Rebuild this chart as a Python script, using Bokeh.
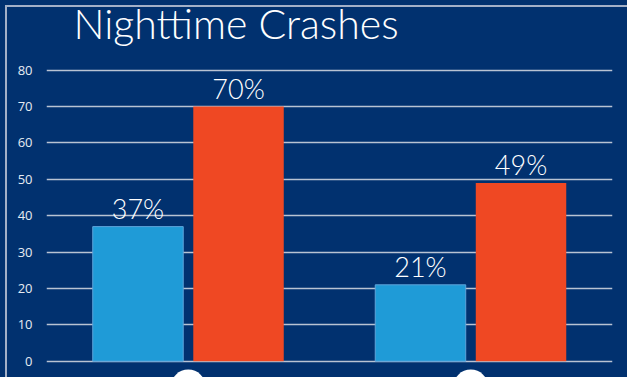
from bokeh.plotting import figure
from bokeh.models import FactorRange, Range1d, FixedTicker, Column, ColumnDataSource, Label
from bokeh.core.properties import value
from bokeh.embed import file_html
from bokeh.resources import INLINE

# ---- data ----
title_text = "Nighttime Crashes"
groups = ["Group 1", "Group 2"]
series = ["Series A", "Series B"]
values_a = [37, 21]
values_b = [70, 49]
labels_a = ["37%", "21%"]
labels_b = ["70%", "49%"]
y_ticks = [0, 10, 20, 30, 40, 50, 60, 70, 80]

BG = "#01316F"
BLUE = "#1F9BD7"
ORANGE = "#EF4823"
GRID = "#B9C3D3"
FRAME_LINE = "#A3B0C7"

factors = [(g, s) for g in groups for s in series]
x_a = [(g, series[0]) for g in groups]
x_b = [(g, series[1]) for g in groups]

p = figure(
    width=627, height=377,
    x_range=FactorRange(*factors, factor_padding=0.0, group_padding=0.81,
                        range_padding=0.41, range_padding_units="absolute"),
    y_range=Range1d(-4.48, 99.16),
    x_axis_location=None,
    output_backend="svg", toolbar_location=None,
    background_fill_alpha=0, border_fill_alpha=0,
    min_border_left=46, min_border_right=15, min_border_top=0, min_border_bottom=0,
)
p.outline_line_color = None

src_a = ColumnDataSource(dict(x=x_a, top=values_a, lab=labels_a))
src_b = ColumnDataSource(dict(x=x_b, top=values_b, lab=labels_b))

p.vbar(x="x", top="top", bottom=0, width=0.9, source=src_a,
       fill_color=BLUE, line_color="#5FA3DA", line_width=1)
p.vbar(x="x", top="top", bottom=0, width=0.9, source=src_b,
       fill_color=ORANGE, line_color=None)

for src in (src_a, src_b):
    p.text(x="x", y="top", text="lab", source=src,
           text_align="center", text_baseline="alphabetic", y_offset=-18,
           text_color="white", text_font=value("Lato Light"), text_font_size="27px")

# icons below the groups (cut off at the bottom edge)
p.scatter(x=groups, y=[-7.1, -7.1], size=35, marker="circle",
          fill_color="white", line_color=None)

p.xgrid.grid_line_color = None
p.ygrid.grid_line_color = GRID
p.ygrid.grid_line_width = 1.5

ax = p.yaxis[0]
ax.ticker = FixedTicker(ticks=y_ticks)
ax.axis_line_color = None
ax.major_tick_line_color = None
ax.minor_tick_line_color = None
ax.major_tick_out = 0
ax.major_label_standoff = 14
ax.major_label_text_color = "#E6EBF2"
ax.major_label_text_font = "Open Sans"
ax.major_label_text_font_size = "13px"

p.add_layout(Label(x=27, y=92.8, x_units="screen", y_units="data",
                   text=title_text, text_color="white",
                   text_font="Lato Light", text_font_size="41px",
                   text_baseline="alphabetic"))

grad = "linear-gradient(%s, %s)" % (FRAME_LINE, FRAME_LINE)
layout = Column(p, styles={
    "background-color": BG,
    "background-image": grad + ", " + grad,
    "background-position": "5px 5px, 5px 5px",
    "background-size": "100% 2px, 2px 100%",
    "background-repeat": "no-repeat",
})

html = file_html(layout, INLINE)
html = html.replace("<body>", '<body style="margin:0;background:%s">' % BG, 1)
open("out.html", "w").write(html)
